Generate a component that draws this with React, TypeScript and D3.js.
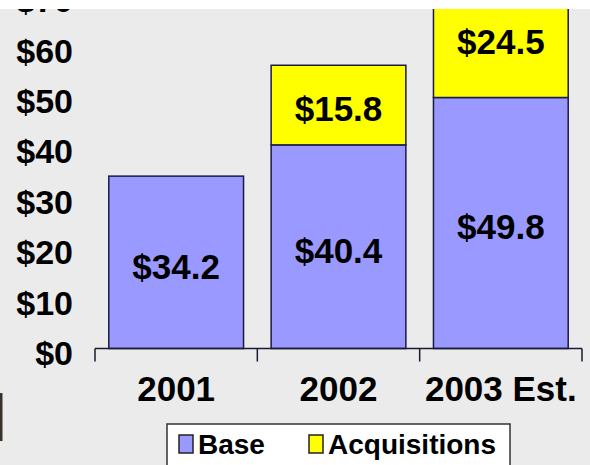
import * as React from "react";
import { useRef, useEffect } from "react";
import * as d3 from "d3";

const years = ["2001", "2002", "2003 Est."];
const baseValues = [34.2, 40.4, 49.8];
const acquisitionValues = [0, 15.8, 24.5];
const yTicks = [0, 10, 20, 30, 40, 50, 60, 70];
const seriesNames = ["Base", "Acquisitions"];
const seriesColors = ["#9999ff", "#ffff00"];

const App = () => {
  const _ref = useRef<HTMLDivElement>(null);

  useEffect(() => {
    document.body.style.margin = "0";
    const node = _ref.current;
    if (!node) return;
    node.innerHTML = "";

    const width = 590;
    const height = 465;
    const font = "Arial, 'Liberation Sans', sans-serif";

    const svg = d3
      .select(node)
      .append("svg")
      .attr("width", width)
      .attr("height", height)
      .style("display", "block");

    // page background + dark edge bottom left
    svg.append("rect").attr("width", width).attr("height", height).attr("fill", "#ebebeb");
    svg.append("rect").attr("x", 0).attr("y", 393).attr("width", 2.5).attr("height", 48).attr("fill", "#3a3228");

    // scales
    const x = d3.scaleBand().domain(years).range([95, 582]).paddingInner(0.17).paddingOuter(0.085);
    const y = d3.scaleLinear().domain([0, 70]).range([348.5, -4.3]);

    const rows = years.map((year, i) => ({
      year,
      base: baseValues[i],
      acquisitions: acquisitionValues[i],
    }));
    const stack = d3.stack<any>().keys(["base", "acquisitions"]);
    const layers = stack(rows);

    // bars
    const chart = svg.append("g");
    layers.forEach((layer, li) => {
      chart
        .append("g")
        .selectAll("rect")
        .data(layer.filter((d) => d[1] - d[0] > 0))
        .join("rect")
        .attr("x", (d) => x(d.data.year)!)
        .attr("y", (d) => y(d[1]))
        .attr("width", x.bandwidth())
        .attr("height", (d) => y(d[0]) - y(d[1]))
        .attr("fill", seriesColors[li])
        .attr("stroke", "#1a1a48")
        .attr("stroke-width", 1.5);
    });

    // value labels (segment middle, the top one kept in view)
    layers.forEach((layer) => {
      chart
        .append("g")
        .selectAll("text")
        .data(layer.filter((d) => d[1] - d[0] > 0))
        .join("text")
        .attr("x", (d) => x(d.data.year)! + x.bandwidth() / 2)
        .attr("y", (d) => (y(d[0]) + Math.max(y(d[1]), -22)) / 2 + 4)
        .attr("dy", "0.35em")
        .attr("text-anchor", "middle")
        .style("font-family", font)
        .style("font-weight", "bold")
        .style("font-size", "35px")
        .text((d) => "$" + (d[1] - d[0]).toFixed(1));
    });

    // x axis line and ticks
    const step = x.step();
    const tickXs = [0, 1, 2, 3].map((i) => x.range()[0] + i * step);
    svg
      .append("line")
      .attr("x1", 95)
      .attr("x2", 582)
      .attr("y1", y(0))
      .attr("y2", y(0))
      .attr("stroke", "#1a1a30")
      .attr("stroke-width", 1.5);
    svg
      .append("g")
      .selectAll("line")
      .data(tickXs)
      .join("line")
      .attr("x1", (d) => d)
      .attr("x2", (d) => d)
      .attr("y1", y(0))
      .attr("y2", y(0) + 13)
      .attr("stroke", "#1a1a30")
      .attr("stroke-width", 1.5);

    // x labels (kept inside the right edge)
    svg
      .append("g")
      .selectAll("text")
      .data(years)
      .join("text")
      .attr("x", (d) => x(d)! + x.bandwidth() / 2)
      .attr("y", 389)
      .attr("dy", "0.35em")
      .attr("text-anchor", "middle")
      .style("font-family", font)
      .style("font-weight", "bold")
      .style("font-size", "35px")
      .text((d) => d)
      .each(function (d) {
        const el = this as SVGTextElement;
        const w = el.getComputedTextLength();
        const cx = x(d)! + x.bandwidth() / 2;
        if (cx + w / 2 > 583) el.setAttribute("x", String(583 - w / 2));
      });

    // y labels
    svg
      .append("g")
      .selectAll("text")
      .data(yTicks)
      .join("text")
      .attr("x", 73)
      .attr("y", (d) => y(d) + 4.5)
      .attr("dy", "0.35em")
      .attr("text-anchor", "end")
      .style("font-family", font)
      .style("font-weight", "bold")
      .style("font-size", "34px")
      .text((d) => "$" + d);

    // white strip on top, over the $70 label like the reference
    svg.append("rect").attr("width", width).attr("height", 9).attr("fill", "#ffffff");

    // legend
    const legend = svg.append("g").attr("transform", "translate(167,424)");
    legend
      .append("rect")
      .attr("width", 343)
      .attr("height", 60)
      .attr("fill", "#ffffff")
      .attr("stroke", "#333333")
      .attr("stroke-width", 1.5);
    const itemX = [12, 142];
    seriesNames.forEach((name, i) => {
      legend
        .append("rect")
        .attr("x", itemX[i])
        .attr("y", 11)
        .attr("width", 14)
        .attr("height", 18)
        .attr("fill", seriesColors[i])
        .attr("stroke", "#222222")
        .attr("stroke-width", 1.5);
      legend
        .append("text")
        .attr("x", itemX[i] + 19)
        .attr("y", 20)
        .attr("dy", "0.35em")
        .style("font-family", font)
        .style("font-weight", "bold")
        .style("font-size", "28px")
        .text(name);
    });
  }, []);

  return <div ref={_ref}></div>;
};

export default App;
